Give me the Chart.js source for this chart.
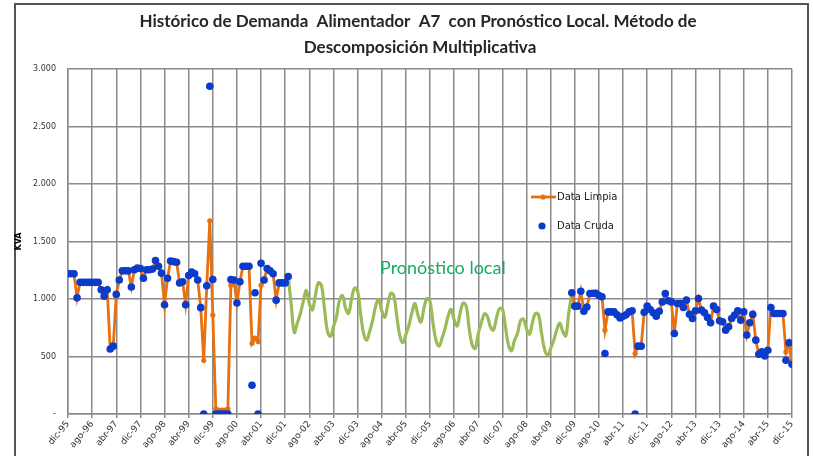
<!DOCTYPE html>
<html lang="es">
<head>
<meta charset="UTF-8">
<title>Histórico de Demanda Alimentador A7</title>
<style>
    html, body { margin: 0; padding: 0; background: #fff; }
    #wrap { width: 813px; height: 456px; }
</style>
</head>
<body>
<div id="wrap"><canvas id="chart" width="813" height="456"></canvas></div>
<script src="https://cdn.jsdelivr.net/npm/chart.js@4.4.1/dist/chart.umd.min.js"></script>
<script>
// x axis: one month per step, dic-95 = 0 ... dic-15 = 240, a tick every 8 months
const xTickLabels = ['dic-95','ago-96','abr-97','dic-97','ago-98','abr-99','dic-99','ago-00','abr-01',
    'dic-01','ago-02','abr-03','dic-03','ago-04','abr-05','dic-05','ago-06','abr-07','dic-07','ago-08',
    'abr-09','dic-09','ago-10','abr-11','dic-11','ago-12','abr-13','dic-13','ago-14','abr-15','dic-15'];
const yTickLabels = ['-', '500', '1.000', '1.500', '2.000', '2.500', '3.000'];

// Data Limpia, first stretch (dic-95 onwards)
const limpiaStart1 = 0;
const limpia1 = [1220,1220,1220,1010,1145,1145,1145,1145,1145,1145,1145,1080,1025,1080,565,590,
    1040,1165,1245,1245,1245,1105,1255,1270,1265,1180,1255,1255,1260,1335,1285,1225,950,1180,
    1330,1325,1320,1140,1150,950,1205,1235,1220,1165,925,465,1115,1680,860,45,35,35,35,45,
    1120,1165,965,1150,1285,1285,1285,615,660,630,1120,1165,1265,1245,1220,990,1140,1140,1140,1195];
// Data Cruda, same months
const cruda1 = [1220,1220,1220,1010,1145,1145,1145,1145,1145,1145,1145,1080,1025,1080,565,590,
    1040,1165,1245,1245,1245,1105,1255,1270,1265,1180,1255,1255,1260,1335,1285,1225,950,1180,
    1330,1325,1320,1140,1150,950,1205,1235,1220,1165,925,0,1115,2850,1170,0,0,0,0,0,
    1170,1165,965,1150,1285,1285,1285,250,1055,0,1310,1165,1265,1245,1220,990,1140,1140,1140,1195];

// Pronóstico local
const pronosticoStart = 73;
const pronostico = [1195,950,710,790,870,980,1075,960,905,1030,1140,1120,920,720,
    675,760,845,990,1030,920,875,1000,1095,1070,870,700,
    642,720,815,940,995,900,840,950,1050,1030,850,680,
    620,690,770,880,960,860,800,920,1005,980,790,640,
    590,660,745,850,910,820,765,880,965,940,740,600,
    570,700,790,870,850,760,730,830,915,915,760,600,
    550,640,700,810,825,740,695,800,875,860,700,560,
    512,570,640,730,790,720,680,880,1054];

// Data Limpia, second stretch
const limpiaStart2 = 167;
const limpia2 = [1054,938,938,1068,894,930,1048,1050,1050,1030,1020,729,888,888,888,862,835,849,
    862,888,897,526,590,590,885,938,909,880,851,894,975,1048,985,975,700,961,960,926,990,868,831,
    897,1005,903,880,840,793,938,909,810,802,729,758,831,860,897,816,888,686,793,866,642,520,540,
    505,555,926,874,874,874,874,540,619,433];
const cruda2 = [1054,938,938,1068,894,930,1048,1050,1050,1030,1020,526,888,888,888,862,835,849,
    862,888,897,0,590,590,885,938,909,880,851,894,975,1048,985,975,700,961,960,926,990,868,831,
    897,1005,903,880,840,793,938,909,810,802,729,758,831,860,897,816,888,686,793,866,642,520,540,
    505,555,926,874,874,874,874,468,619,433];

function toPoints(start, values) {
    return values.map((v, k) => ({ x: start + k, y: v }));
}

const limpiaPoints = toPoints(limpiaStart1, limpia1)
    .concat([{ x: 120, y: null }])
    .concat(toPoints(limpiaStart2, limpia2));
const crudaPoints = toPoints(limpiaStart1, cruda1).concat(toPoints(limpiaStart2, cruda2));
const pronosticoPoints = toPoints(pronosticoStart, pronostico);

const ORANGE = '#E8700E';
const BLUE = '#0B3BCB';
const GREEN = '#9BBB59';
const GRID = '#8a8a8a';

// frame, title, legend and label drawn on the canvas
const decorations = {
    id: 'decorations',
    beforeDraw(chart) {
        const ctx = chart.ctx;
        ctx.save();
        ctx.fillStyle = '#fff';
        ctx.fillRect(0, 0, chart.width, chart.height);
        ctx.strokeStyle = '#555';
        ctx.lineWidth = 2;
        ctx.beginPath();
        ctx.moveTo(15, 456); ctx.lineTo(15, 4); ctx.lineTo(808, 4); ctx.lineTo(808, 456);
        ctx.stroke();
        ctx.restore();
    },
    afterDraw(chart) {
        const ctx = chart.ctx;
        ctx.save();
        ctx.fillStyle = '#262626';
        ctx.font = 'bold 17px Lato';
        ctx.textAlign = 'center';
        ctx.textBaseline = 'middle';
        ctx.fillText('Histórico de Demanda  Alimentador  A7  con Pronóstico Local. Método de', 418, 22);
        ctx.fillText('Descomposición Multiplicativa', 420, 48);

        ctx.fillStyle = '#14AE62';
        ctx.font = '18px Lato';
        ctx.textAlign = 'left';
        ctx.fillText('Pronóstico local', 380, 268);

        // legend
        ctx.strokeStyle = ORANGE;
        ctx.lineWidth = 2.8;
        ctx.beginPath(); ctx.moveTo(531, 197); ctx.lineTo(556, 197); ctx.stroke();
        ctx.fillStyle = ORANGE;
        ctx.beginPath(); ctx.arc(543, 197, 2.6, 0, Math.PI * 2); ctx.fill();
        ctx.fillStyle = BLUE;
        ctx.beginPath(); ctx.arc(542, 226, 3.6, 0, Math.PI * 2); ctx.fill();
        ctx.fillStyle = '#1a1a1a';
        ctx.font = '10px "DejaVu Sans"';
        ctx.fillText('Data Limpia', 557, 197);
        ctx.fillText('Data Cruda', 557, 226);
        ctx.restore();
    }
};

const ctx = document.getElementById('chart').getContext('2d');
new Chart(ctx, {
    type: 'line',
    data: {
        datasets: [
            {
                label: 'Data Cruda',
                data: crudaPoints,
                showLine: false,
                pointRadius: 3.8,
                pointBackgroundColor: BLUE,
                pointBorderWidth: 0,
                order: 0
            },
            {
                label: 'Data Limpia',
                data: limpiaPoints,
                borderColor: ORANGE,
                borderWidth: 2.8,
                pointRadius: 2.6,
                pointBackgroundColor: ORANGE,
                pointBorderWidth: 0,
                spanGaps: false,
                tension: 0,
                order: 1
            },
            {
                label: 'Pronóstico local',
                data: pronosticoPoints,
                borderColor: GREEN,
                borderWidth: 3.2,
                pointRadius: 0,
                tension: 0.4,
                order: 2
            }
        ]
    },
    options: {
        responsive: false,
        devicePixelRatio: 1,
        animation: false,
        layout: { padding: { left: 14, right: 21, top: 69, bottom: 0 } },
        plugins: {
            legend: { display: false },
            title: { display: false },
            tooltip: { enabled: false }
        },
        scales: {
            x: {
                type: 'linear',
                min: 0,
                max: 240,
                afterFit: s => { s.height = 42; },
                grid: { color: GRID, lineWidth: 1.5, tickLength: 4 },
                border: { color: GRID, width: 1.5 },
                ticks: {
                    stepSize: 8,
                    autoSkip: false,
                    minRotation: 50,
                    maxRotation: 50,
                    padding: 1,
                    color: '#333',
                    font: { family: 'DejaVu Sans', size: 9 },
                    callback: v => xTickLabels[v / 8]
                }
            },
            y: {
                min: 0,
                max: 3000,
                afterFit: s => { s.width = 54; },
                grid: { color: GRID, lineWidth: 1.5, drawTicks: false },
                border: { color: GRID, width: 1.5 },
                title: {
                    display: true,
                    text: 'KVA',
                    color: '#000',
                    padding: 0,
                    font: { family: 'DejaVu Sans', size: 8, weight: 'bold' }
                },
                ticks: {
                    stepSize: 500,
                    padding: 12,
                    color: '#333',
                    font: { family: 'DejaVu Sans', size: 8 },
                    callback: v => yTickLabels[v / 500]
                }
            }
        }
    },
    plugins: [decorations]
});
</script>
</body>
</html>
